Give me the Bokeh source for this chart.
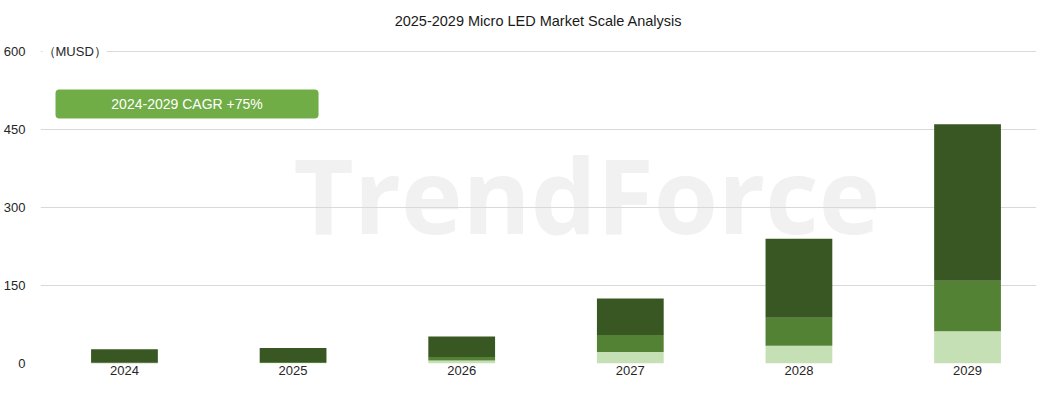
from bokeh.plotting import figure
from bokeh.models import ColumnDataSource, Range1d, FixedTicker, Label, BoxAnnotation
from bokeh.embed import file_html
from bokeh.resources import INLINE

# ---- data ----
years = [2024, 2025, 2026, 2027, 2028, 2029]
year_labels = ["2024", "2025", "2026", "2027", "2028", "2029"]
seg_light = [0.5, 1.0, 6.0, 22.0, 34.0, 62.0]
seg_mid = [1.0, 2.0, 6.5, 33.0, 54.0, 97.0]
seg_dark = [26.0, 27.0, 39.5, 70.0, 152.0, 301.0]
y_ticks = [0, 150, 300, 450, 600]

title_text = "2025-2029 Micro LED Market Scale Analysis"
unit_text = "（MUSD）"
cagr_text = "2024-2029 CAGR +75%"

colors = ["#C5E0B4", "#548235", "#385723"]
stack_keys = ["light", "mid", "dark"]

src = ColumnDataSource(dict(year=years, light=seg_light, mid=seg_mid, dark=seg_dark))

p = figure(width=1036, height=377, output_backend="svg", toolbar_location=None,
           x_range=Range1d(2023.502, 2029.409), y_range=Range1d(0, 623),
           min_border_left=40, min_border_right=0, min_border_top=38,
           min_border_bottom=0)

p.title.text = title_text
p.title.align = "center"
p.title.text_font = "Liberation Sans"
p.title.text_font_size = "14.5px"
p.title.text_font_style = "normal"
p.title.text_color = "#1a1a1a"
p.title.standoff = 21
p.title.offset = 5

# watermark
wm = Label(x=2025.003, y=326, text="TrendForce", text_font="Open Sans",
           text_font_style="bold", text_font_size="104px", text_color="#f1f1f1",
           text_baseline="alphabetic", level="image")
p.add_layout(wm)

p.vbar_stack(stack_keys, x="year", width=0.396, source=src, color=colors,
             line_color=None)

p.xgrid.visible = False
p.ygrid.grid_line_color = "#d9d9d9"
p.ygrid.grid_line_width = 1
p.outline_line_color = None

p.xaxis.ticker = FixedTicker(ticks=years)
p.xaxis.major_label_overrides = {y: s for y, s in zip(years, year_labels)}
p.yaxis.ticker = FixedTicker(ticks=y_ticks)
for ax in (p.xaxis[0], p.yaxis[0]):
    ax.axis_line_color = None
    ax.major_tick_line_color = None
    ax.minor_tick_line_color = None
    ax.major_tick_out = 0
    ax.major_tick_in = 0
    ax.minor_tick_out = 0
    ax.minor_tick_in = 0
    ax.axis_label_standoff = 0
    ax.major_label_text_font = "Liberation Sans"
    ax.major_label_text_font_size = "13px"
    ax.major_label_text_color = "#262626"
p.xaxis.major_label_standoff = 2
p.yaxis.major_label_standoff = 15

# unit label
p.add_layout(Label(x=2023.502, y=600, text=unit_text, text_font="Liberation Sans",
                   text_font_size="13px", text_color="#262626",
                   text_baseline="middle", x_offset=2,
                   background_fill_color="white"))

# CAGR box
p.add_layout(BoxAnnotation(left=2023.591, right=2025.151, bottom=471, top=527,
                           fill_color="#70AD47", fill_alpha=1.0,
                           line_color=None, border_radius=4))
p.add_layout(Label(x=2024.371, y=499, text=cagr_text, text_font="Liberation Sans",
                   text_font_size="14px", text_color="white",
                   text_align="center", text_baseline="middle"))

open("out.html", "w").write(file_html(p, INLINE))
